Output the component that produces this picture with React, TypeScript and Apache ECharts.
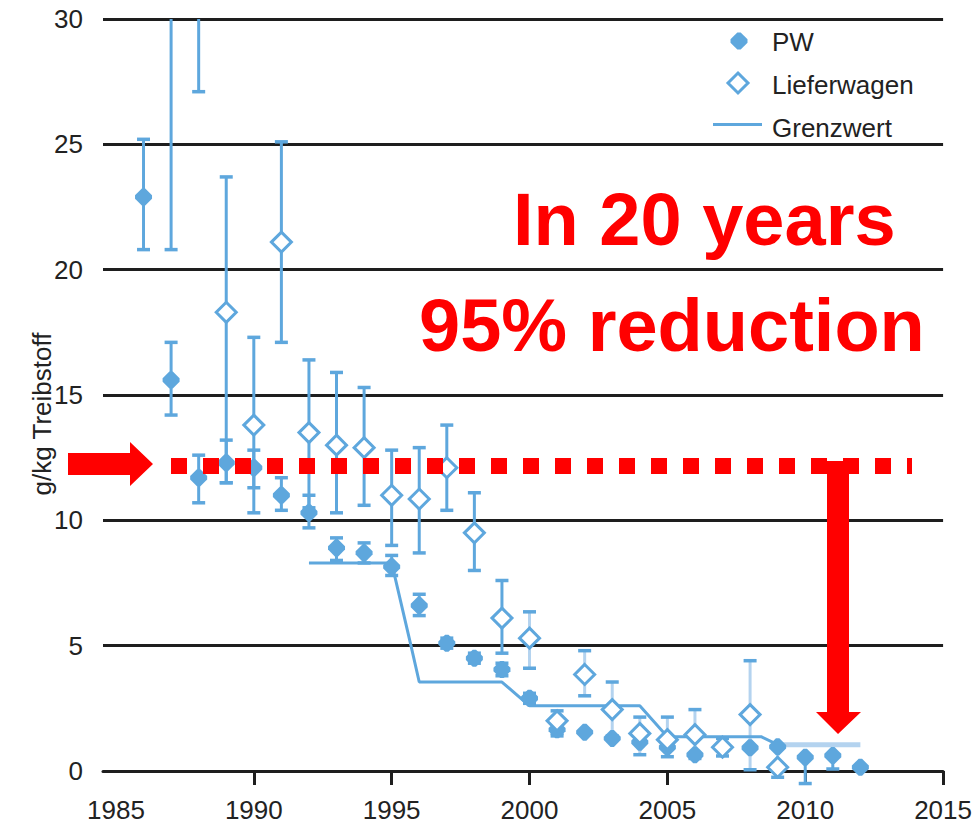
import React, { useEffect, useRef } from "react";
import * as echarts from "echarts";

const FONT = "'Liberation Sans', Arial, sans-serif";
const BLUE = "#5ea7dd";
const BLUE_LIGHT = "#b4d3ef";
const INK = "#1e1e1e";
const RED = "#ff0000";

// axis ticks / labels
const xLabelValues = [1985, 1990, 1995, 2000, 2005, 2010, 2015];
const xTickValues = [1990, 1995, 2000, 2005, 2010, 2015];

// PW (Personenwagen)
const pwYears = [1986, 1987, 1988, 1989, 1990, 1991, 1992, 1993, 1994, 1995, 1996, 1997, 1998, 1999, 2000, 2001, 2002, 2003, 2004, 2005, 2006, 2007, 2008, 2009, 2010, 2011, 2012];
const pwValues = [22.9, 15.6, 11.7, 12.3, 12.1, 11.0, 10.3, 8.9, 8.7, 8.15, 6.6, 5.1, 4.5, 4.05, 2.9, 1.65, 1.55, 1.3, 1.15, 0.95, 0.65, 0.9, 0.93, 0.97, 0.55, 0.62, 0.15];
const pwLow = [20.8, 14.2, 10.7, 11.5, 11.3, 10.4, 9.7, 8.4, 8.3, 7.8, 6.2, 4.9, 4.3, 3.8, 2.7, 1.4, null, null, null, null, null, null, null, null, -0.5, 0.08, null];
const pwHigh = [25.2, 17.1, 12.6, 13.2, 12.8, 11.7, 11.0, 9.3, 9.1, 8.6, 7.05, 5.3, 4.7, 4.3, 3.1, 2.0, null, null, null, null, null, null, null, null, 0.55, 0.62, null];

// Lieferwagen
const lwYears = [1987, 1988, 1989, 1990, 1991, 1992, 1993, 1994, 1995, 1996, 1997, 1998, 1999, 2000, 2001, 2002, 2003, 2004, 2005, 2006, 2007, 2008, 2009];
const lwValues = [38, 33, 18.3, 13.8, 21.1, 13.5, 13.0, 12.9, 11.0, 10.85, 12.1, 9.5, 6.1, 5.3, 2.0, 3.85, 2.45, 1.5, 1.25, 1.45, 0.95, 2.25, 0.15];
const lwLow = [20.8, 27.1, 11.5, 10.3, 17.1, 10.5, 10.3, 10.6, 9.0, 8.7, 10.4, 8.0, 4.7, 4.1, 1.5, 3.0, 1.4, 0.65, 0.57, 0.5, 0.6, 0.05, -0.25];
const lwHigh = [55, 39, 23.7, 17.3, 25.1, 16.4, 15.9, 15.3, 12.8, 12.9, 13.8, 11.1, 7.6, 6.35, 2.4, 4.8, 3.55, 2.15, 2.15, 2.45, 1.3, 4.4, 0.9];

// Grenzwert
const limitYears = [1992, 1995, 1995.7, 1996, 1999, 2000, 2004, 2005, 2008.4, 2009];
const limitValues = [8.3, 8.3, 5.0, 3.55, 3.55, 2.6, 2.6, 1.37, 1.37, 1.05];
const limitLateYears = [2009, 2012];
const limitLateValues = [1.05, 1.05];

const Y_MAX = 30;
const PW_SYMBOL = "path://M4,0L6,0L10,4L10,6L6,10L4,10L0,6L0,4Z";

function errData(years: number[], low: (number | null)[], high: (number | null)[]) {
  const out: number[][] = [];
  years.forEach((y, i) => {
    const l = low[i];
    const h = high[i];
    if (l !== null && h !== null) out.push([y, l, h]);
  });
  return out;
}

function makeErrRenderer(lightFrom: number | null) {
  return (params: any, api: any) => {
    const x = api.value(0);
    const lo = api.value(1);
    let hi = api.value(2);
    const clipped = hi > Y_MAX;
    if (clipped) hi = Y_MAX;
    const pLo = api.coord([x, lo]);
    const pHi = api.coord([x, hi]);
    const half = 6.5;
    const stemColor = lightFrom !== null && x >= lightFrom ? BLUE_LIGHT : BLUE;
    const children: any[] = [
      {
        type: "line",
        shape: { x1: pLo[0], y1: pLo[1], x2: pHi[0], y2: pHi[1] },
        style: { stroke: stemColor, lineWidth: 3 },
      },
      {
        type: "line",
        shape: { x1: pLo[0] - half, y1: pLo[1], x2: pLo[0] + half, y2: pLo[1] },
        style: { stroke: BLUE, lineWidth: 3.5 },
      },
    ];
    if (!clipped) {
      children.push({
        type: "line",
        shape: { x1: pHi[0] - half, y1: pHi[1], x2: pHi[0] + half, y2: pHi[1] },
        style: { stroke: BLUE, lineWidth: 3.5 },
      });
    }
    return { type: "group", children };
  };
}

function octagonPoints(cx: number, cy: number, size: number) {
  const s = size / 10;
  return [[4, 0], [6, 0], [10, 4], [10, 6], [6, 10], [4, 10], [0, 6], [0, 4]].map(([a, b]) => [cx + (a - 5) * s, cy + (b - 5) * s]);
}

export default function App() {
  const ref = useRef<HTMLDivElement>(null);

  useEffect(() => {
    if (!ref.current) return;
    const chart = echarts.init(ref.current, null, { renderer: "svg" });

    const option: any = {
      animation: false,
      backgroundColor: "#ffffff",
      grid: { left: 103, right: 21, top: 19, bottom: 57, containLabel: false },
      xAxis: {
        type: "value",
        min: 1984.53,
        max: 2015,
        splitLine: { show: false },
        axisLine: { show: true, lineStyle: { color: INK, width: 3 } },
        axisTick: { show: true, customValues: xTickValues, length: 14, lineStyle: { color: INK, width: 3 } },
        axisLabel: {
          customValues: xLabelValues,
          margin: 26,
          fontSize: 26,
          color: "#222",
          fontFamily: FONT,
          formatter: (v: number) => String(v),
        },
      },
      yAxis: {
        type: "value",
        min: 0,
        max: 30,
        interval: 5,
        axisLine: { show: false },
        axisTick: { show: false },
        splitLine: { show: true, lineStyle: { color: INK, width: 3 } },
        axisLabel: { margin: 20, fontSize: 26, color: "#222", fontFamily: FONT },
      },
      series: [
        {
          name: "PW error",
          type: "custom",
          renderItem: makeErrRenderer(null),
          data: errData(pwYears, pwLow, pwHigh),
          encode: { x: 0, y: [1, 2] },
          clip: false,
          z: 2,
          silent: true,
        },
        {
          name: "Lieferwagen error",
          type: "custom",
          renderItem: makeErrRenderer(2000),
          data: errData(lwYears, lwLow, lwHigh),
          encode: { x: 0, y: [1, 2] },
          clip: false,
          z: 2,
          silent: true,
        },
        {
          name: "Grenzwert",
          type: "line",
          data: limitYears.map((y, i) => [y, limitValues[i]]),
          showSymbol: false,
          symbol: "none",
          lineStyle: { color: BLUE, width: 3 },
          z: 3,
        },
        {
          name: "Grenzwert (spät)",
          type: "line",
          data: limitLateYears.map((y, i) => [y, limitLateValues[i]]),
          showSymbol: false,
          symbol: "none",
          lineStyle: { color: BLUE_LIGHT, width: 5 },
          z: 3,
        },
        {
          name: "PW",
          type: "scatter",
          data: pwYears.map((y, i) => [y, pwValues[i]]),
          symbol: PW_SYMBOL,
          symbolSize: 17,
          itemStyle: { color: BLUE, opacity: 1 },
          clip: true,
          z: 4,
        },
        {
          name: "Lieferwagen",
          type: "scatter",
          data: lwYears.map((y, i) => [y, lwValues[i]]),
          symbol: "diamond",
          symbolSize: 20,
          itemStyle: { color: "#ffffff", borderColor: BLUE, borderWidth: 3, opacity: 1 },
          clip: true,
          z: 5,
        },
      ],
      graphic: [
        // y axis name
        {
          type: "text",
          x: 42,
          y: 414,
          rotation: Math.PI / 2,
          style: { text: "g/kg Treibstoff", fontSize: 26, fontFamily: FONT, fill: "#222", align: "center", verticalAlign: "middle" },
        },
        // legend
        {
          type: "polygon",
          shape: { points: octagonPoints(739, 41, 17) },
          style: { fill: BLUE },
        },
        {
          type: "text",
          x: 772,
          y: 42,
          style: { text: "PW", fontSize: 26, fontFamily: FONT, fill: "#222", align: "left", verticalAlign: "middle" },
        },
        {
          type: "polygon",
          shape: { points: [[738, 73], [748, 83], [738, 93], [728, 83]] },
          style: { fill: "#ffffff", stroke: BLUE, lineWidth: 3 },
        },
        {
          type: "text",
          x: 772,
          y: 85,
          style: { text: "Lieferwagen", fontSize: 26, fontFamily: FONT, fill: "#222", align: "left", verticalAlign: "middle" },
        },
        {
          type: "line",
          shape: { x1: 713, y1: 124.5, x2: 762, y2: 124.5 },
          style: { stroke: BLUE, lineWidth: 3 },
        },
        {
          type: "text",
          x: 772,
          y: 128,
          style: { text: "Grenzwert", fontSize: 26, fontFamily: FONT, fill: "#222", align: "left", verticalAlign: "middle" },
        },
        // annotation texts
        {
          type: "text",
          x: 513,
          y: 219,
          z: 20,
          style: { text: "In 20 years", fontSize: 74, fontWeight: "bold", fontFamily: FONT, fill: RED, align: "left", verticalAlign: "middle" },
        },
        {
          type: "text",
          x: 419,
          y: 325,
          z: 20,
          style: { text: "95% reduction", fontSize: 74, fontWeight: "bold", fontFamily: FONT, fill: RED, align: "left", verticalAlign: "middle" },
        },
        // left arrow
        {
          type: "polygon",
          z: 20,
          shape: { points: [[68, 453], [130, 453], [130, 442], [153, 464], [130, 486], [130, 475], [68, 475]] },
          style: { fill: RED },
        },
        // dashed level line
        {
          type: "line",
          z: 20,
          shape: { x1: 171, y1: 466, x2: 912, y2: 466 },
          style: { stroke: RED, lineWidth: 16, lineDash: [16, 16], lineCap: "butt" },
        },
        // down arrow
        {
          type: "polygon",
          z: 20,
          shape: { points: [[827, 461], [849, 461], [849, 712], [861, 712], [838, 734], [816, 712], [827, 712]] },
          style: { fill: RED },
        },
      ],
    };

    chart.setOption(option);
    return () => chart.dispose();
  }, []);

  return (
    <div
      ref={ref}
      style={{ position: "absolute", left: 0, top: 0, width: 975, height: 828, background: "#fff" }}
    />
  );
}
